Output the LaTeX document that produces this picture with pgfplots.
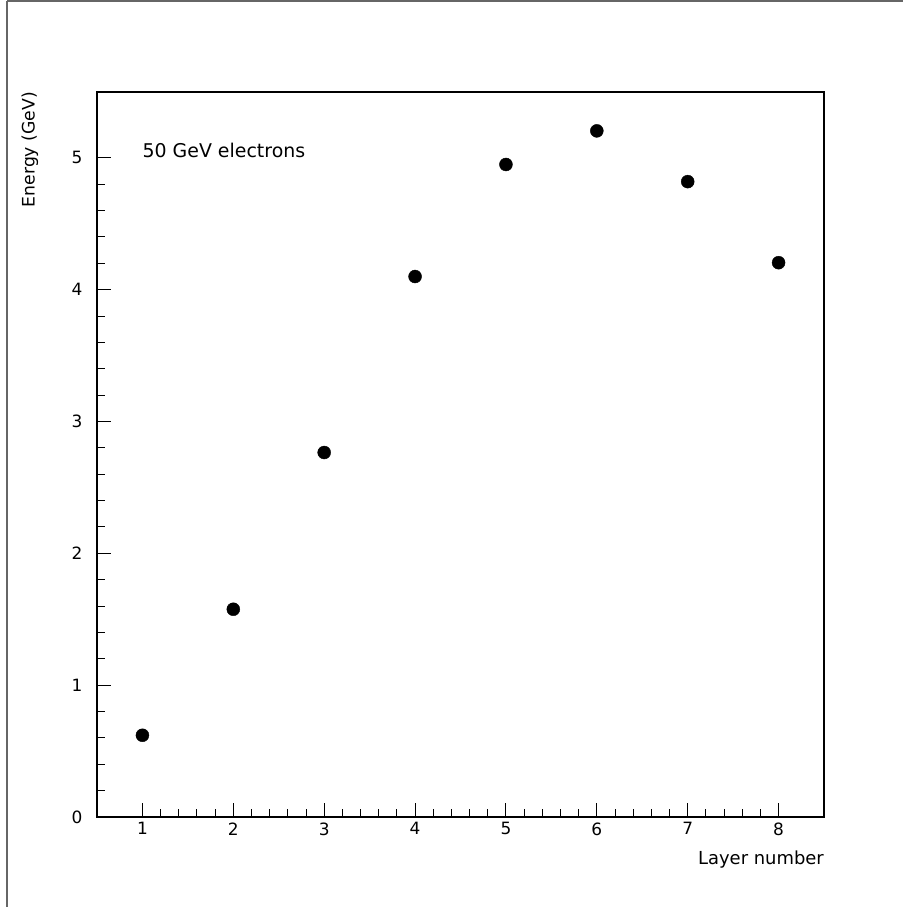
\documentclass[border=0pt]{standalone}
\usepackage{fontspec}
\setmainfont{DejaVu Sans}
\usepackage{pgfplots}
\pgfplotsset{compat=1.18}
\begin{document}
\begin{tikzpicture}[x=1bp,y=1bp]
\useasboundingbox (0,0) rectangle (903,907);
\draw[gray!80!black, line width=1.6bp] (7,906) -- (903,906);
\draw[gray!80!black, line width=1.6bp] (7,906) -- (7,0);
\begin{axis}[
  at={(97bp,90bp)}, anchor=south west,
  scale only axis, width=727bp, height=725bp,
  xmin=0.5, xmax=8.5, ymin=0, ymax=5.5,
  xtick={1,...,8}, ytick={0,...,5},
  minor tick num=4,
  xtick pos=left, ytick pos=left,
  tick align=inside,
  major tick length=14bp, minor tick length=8bp,
  every tick/.style={black, line width=1bp},
  axis line style={black, line width=1.2bp},
  /pgf/number format/assume math mode=true,
  ticklabel style={font=\fontsize{17}{20}\selectfont},
  yticklabel style={xshift=-11bp},
  xticklabel style={yshift=-2bp},
  xlabel={Layer number},
  ylabel={Energy (GeV)},
  xlabel style={at={(rel axis cs:1,0)}, anchor=north east, yshift=-34bp, inner sep=0pt, font=\fontsize{18}{21}\selectfont},
  ylabel style={at={(rel axis cs:0,1)}, anchor=east, yshift=67bp, xshift=0pt, inner sep=0pt, font=\fontsize{17.3}{20}\selectfont},
  clip=false,
]
\addplot[only marks, mark=*, mark size=6.5bp, black] coordinates {
  (1,0.62) (2,1.576) (3,2.765) (4,4.10) (5,4.95) (6,5.205) (7,4.82) (8,4.205)
};
\node[anchor=base west, inner sep=0pt, font=\fontsize{19}{22}\selectfont] at (axis cs:1,5) {50 GeV electrons};
\end{axis}
\end{tikzpicture}
\end{document}
